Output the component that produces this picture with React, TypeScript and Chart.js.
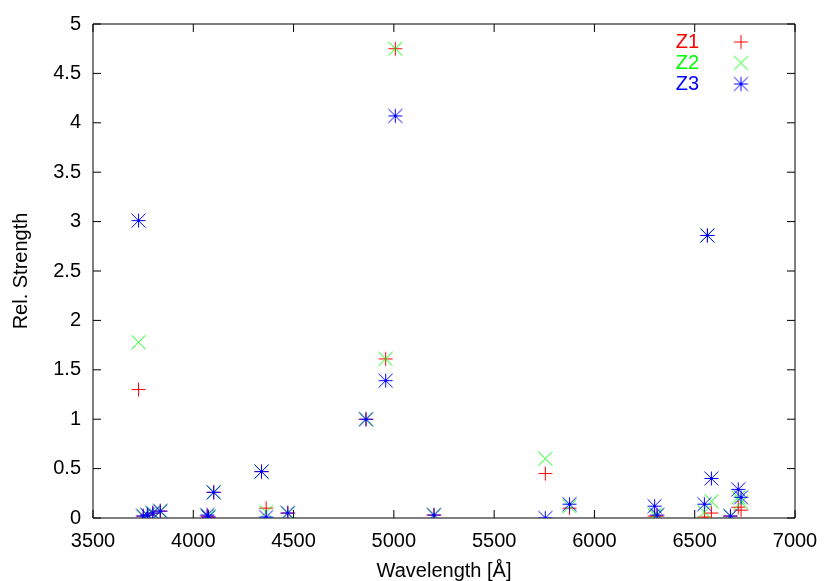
import React, { useEffect, useRef } from "react";
import { Chart, registerables } from "chart.js";

Chart.register(...registerables);

// Emission-line wavelengths (Å)
const WAVELENGTHS = [
  3727, 3750, 3771, 3798, 3835, 4069, 4076, 4102, 4340, 4363, 4471, 4861, 4959,
  5007, 5200, 5755, 5876, 6300, 6312, 6548, 6563, 6583, 6678, 6717, 6731,
];
// Relative strengths per zone
const Z1_VALUES = [
  1.3, 0.02, 0.03, 0.05, 0.07, 0.02, 0.01, 0.26, 0.47, 0.1, 0.05, 1.0, 1.61,
  4.75, 0.03, 0.45, 0.1, 0.02, 0.02, 0.01, 2.86, 0.05, 0.02, 0.11, 0.08,
];
const Z2_VALUES = [
  1.78, 0.02, 0.03, 0.05, 0.07, 0.02, 0.01, 0.26, 0.47, 0.06, 0.05, 1.0, 1.61,
  4.75, 0.03, 0.6, 0.12, 0.03, 0.03, 0.06, 2.86, 0.17, 0.02, 0.21, 0.16,
];
const Z3_VALUES = [
  3.01, 0.02, 0.03, 0.05, 0.07, 0.03, 0.01, 0.26, 0.47, 0.01, 0.05, 1.0, 1.39,
  4.07, 0.03, 0.0, 0.14, 0.12, 0.03, 0.14, 2.86, 0.4, 0.02, 0.29, 0.21,
];
const SERIES_NAMES = ["Z1", "Z2", "Z3"];
const SERIES_COLORS = ["#ff0000", "#00ff00", "#0000ff"];
const SERIES_MARKERS = ["plus", "x", "star"];
const X_TICKS = [3500, 4000, 4500, 5000, 5500, 6000, 6500, 7000];
const Y_TICKS = [0, 0.5, 1, 1.5, 2, 2.5, 3, 3.5, 4, 4.5, 5];
const X_TITLE = "Wavelength [Å]";
const Y_TITLE = "Rel. Strength";

const FONT_FAMILY = '"Liberation Sans", Arial, Helvetica, sans-serif';
const FONT_SIZE = 20;
const TICK_LEN = 8;

function makeMarker(kind: string, color: string): HTMLCanvasElement {
  const s = 17;
  const c = document.createElement("canvas");
  c.width = s;
  c.height = s;
  const g = c.getContext("2d")!;
  g.strokeStyle = color;
  g.fillStyle = color;
  g.lineWidth = 1;
  const m = 8.5;
  const r = 7;
  g.beginPath();
  if (kind === "plus" || kind === "star") {
    g.moveTo(m - r, m);
    g.lineTo(m + r, m);
    g.moveTo(m, m - r);
    g.lineTo(m, m + r);
  }
  if (kind === "x" || kind === "star") {
    g.moveTo(m - r, m - r);
    g.lineTo(m + r, m + r);
    g.moveTo(m + r, m - r);
    g.lineTo(m - r, m + r);
  }
  g.stroke();
  if (kind === "star") {
    g.fillRect(m - 1.5, m - 1.5, 3, 3);
  }
  return c;
}

export default function App() {
  const canvasRef = useRef<HTMLCanvasElement | null>(null);

  useEffect(() => {
    const canvas = canvasRef.current;
    if (!canvas) return;
    const markers = SERIES_MARKERS.map((k, i) => makeMarker(k, SERIES_COLORS[i]));
    const seriesValues = [Z1_VALUES, Z2_VALUES, Z3_VALUES];

    const framePlugin = {
      id: "gnuplotFrame",
      beforeDatasetsDraw(chart: any) {
        const { ctx, chartArea } = chart;
        const { left, right, top, bottom } = chartArea;
        const xs = chart.scales.x;
        const ys = chart.scales.y;
        ctx.save();
        ctx.strokeStyle = "#000";
        ctx.lineWidth = 1;
        ctx.beginPath();
        ctx.rect(left, top, right - left, bottom - top);
        ctx.stroke();
        ctx.beginPath();
        for (const v of X_TICKS) {
          const px = xs.getPixelForValue(v);
          ctx.moveTo(px, bottom);
          ctx.lineTo(px, bottom - TICK_LEN);
          ctx.moveTo(px, top);
          ctx.lineTo(px, top + TICK_LEN);
        }
        for (const v of Y_TICKS) {
          const py = ys.getPixelForValue(v);
          ctx.moveTo(left, py);
          ctx.lineTo(left + TICK_LEN, py);
          ctx.moveTo(right, py);
          ctx.lineTo(right - TICK_LEN, py);
        }
        ctx.stroke();
        ctx.restore();
      },
      afterDraw(chart: any) {
        const { ctx } = chart;
        ctx.save();
        ctx.font = `${FONT_SIZE}px ${FONT_FAMILY}`;
        ctx.textAlign = "right";
        ctx.textBaseline = "middle";
        const textRight = 699;
        const markerX = 741;
        const y0 = 42;
        const dy = 21;
        chart.data.datasets.forEach((ds: any, i: number) => {
          const y = y0 + i * dy;
          ctx.fillStyle = SERIES_COLORS[i];
          ctx.fillText(ds.label, textRight, y);
          const img = markers[i];
          ctx.drawImage(img, markerX - img.width / 2, y - img.height / 2);
        });
        ctx.restore();
      },
    };

    const font = { family: FONT_FAMILY, size: FONT_SIZE };

    const chart = new Chart(canvas, {
      type: "scatter",
      data: {
        datasets: SERIES_NAMES.map((name, i) => ({
          label: name,
          data: WAVELENGTHS.map((w, j) => ({ x: w, y: seriesValues[i][j] })),
          pointStyle: markers[i] as any,
          pointRadius: 7,
          pointHoverRadius: 7,
          borderColor: SERIES_COLORS[i],
          backgroundColor: SERIES_COLORS[i],
          order: 3 - i,
        })),
      },
      options: {
        animation: false,
        responsive: false,
        devicePixelRatio: 1,
        layout: { padding: { left: 0, right: 35, top: 24, bottom: 0 } },
        plugins: {
          legend: { display: false },
          tooltip: { enabled: false },
        },
        scales: {
          x: {
            type: "linear",
            min: 3500,
            max: 7000,
            afterBuildTicks: (s: any) => {
              s.ticks = X_TICKS.map((v) => ({ value: v }));
            },
            afterFit: (s: any) => {
              s.height = 63;
            },
            grid: { display: false, drawTicks: false },
            border: { display: false },
            ticks: {
              callback: (v: any) => String(v),
              font,
              color: "#000",
              padding: 11,
              maxRotation: 0,
              autoSkip: false,
            },
            title: {
              display: true,
              text: X_TITLE,
              font,
              color: "#000",
              padding: { top: 0, bottom: -2 },
            },
          },
          y: {
            type: "linear",
            min: 0,
            max: 5,
            afterBuildTicks: (s: any) => {
              s.ticks = Y_TICKS.map((v) => ({ value: v }));
            },
            afterFit: (s: any) => {
              s.width = 93;
            },
            grid: { display: false, drawTicks: false },
            border: { display: false },
            ticks: {
              callback: (v: any) => String(v),
              font,
              color: "#000",
              padding: 12,
              autoSkip: false,
            },
            title: {
              display: true,
              text: Y_TITLE,
              font,
              color: "#000",
              padding: { top: 9, bottom: 0 },
            },
          },
        },
      },
      plugins: [framePlugin],
    });

    return () => {
      chart.destroy();
    };
  }, []);

  return (
    <div style={{ position: "fixed", left: 0, top: 0, width: 830, height: 581, background: "#fff" }}>
      <canvas ref={canvasRef} width={830} height={581} style={{ display: "block" }} />
    </div>
  );
}
